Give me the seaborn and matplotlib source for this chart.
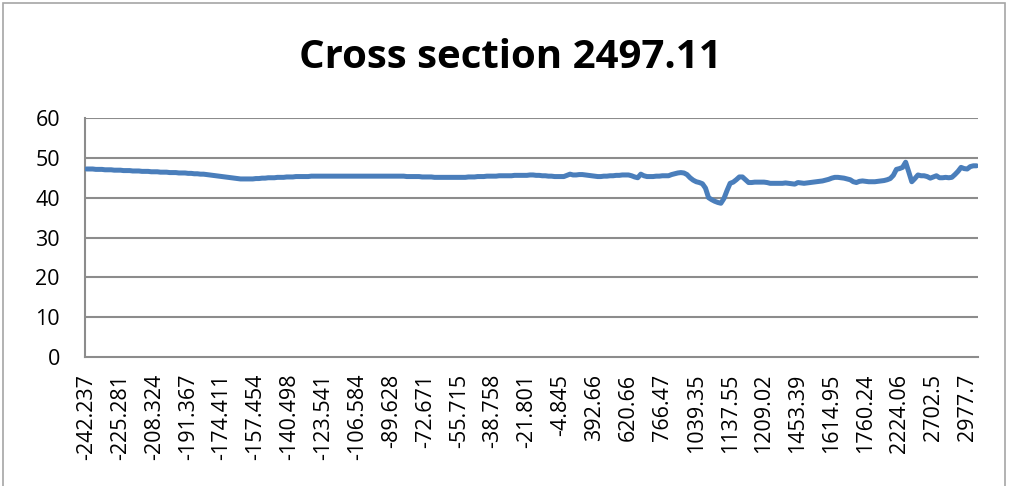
import matplotlib
matplotlib.use("Agg")
import matplotlib.pyplot as plt
from matplotlib.patches import Rectangle
import numpy as np
import pandas as pd
import seaborn as sns

title = "Cross section 2497.11"

tick_labels = ["-242.237", "-225.281", "-208.324", "-191.367", "-174.411", "-157.454",
               "-140.498", "-123.541", "-106.584", "-89.628", "-72.671", "-55.715",
               "-38.758", "-21.801", "-4.845", "392.66", "620.66", "766.47",
               "1039.35", "1137.55", "1209.02", "1453.39", "1614.95", "1760.24",
               "2224.06", "2702.5", "2977.7"]
label_step = 11

elevation = [
    47.2, 47.2, 47.2, 47.1, 47.1, 47.1, 47.0, 47.0, 47.0, 46.9,
    46.9, 46.9, 46.8, 46.8, 46.8, 46.7, 46.7, 46.7, 46.6, 46.6,
    46.6, 46.5, 46.5, 46.5, 46.4, 46.4, 46.4, 46.3, 46.3, 46.3,
    46.2, 46.2, 46.2, 46.1, 46.1, 46.0, 46.0, 45.9, 45.9, 45.8,
    45.7, 45.6, 45.5, 45.4, 45.3, 45.2, 45.1, 45.0, 44.9, 44.8,
    44.7, 44.7, 44.7, 44.7, 44.7, 44.8, 44.8, 44.9, 44.9, 45.0,
    45.0, 45.0, 45.1, 45.1, 45.1, 45.2, 45.2, 45.2, 45.3, 45.3,
    45.3, 45.3, 45.3, 45.4, 45.4, 45.4, 45.4, 45.4, 45.4, 45.4,
    45.4, 45.4, 45.4, 45.4, 45.4, 45.4, 45.4, 45.4, 45.4, 45.4,
    45.4, 45.4, 45.4, 45.4, 45.4, 45.4, 45.4, 45.4, 45.4, 45.4,
    45.4, 45.4, 45.4, 45.4, 45.3, 45.3, 45.3, 45.3, 45.3, 45.2,
    45.2, 45.2, 45.2, 45.1, 45.1, 45.1, 45.1, 45.1, 45.1, 45.1,
    45.1, 45.1, 45.1, 45.1, 45.2, 45.2, 45.2, 45.3, 45.3, 45.3,
    45.4, 45.4, 45.4, 45.4, 45.5, 45.5, 45.5, 45.5, 45.5, 45.6,
    45.6, 45.6, 45.6, 45.6, 45.7, 45.7, 45.6, 45.6, 45.5, 45.5,
    45.4, 45.4, 45.3, 45.3, 45.3, 45.3, 45.6, 45.9, 45.7, 45.7,
    45.8, 45.8, 45.7, 45.6, 45.5, 45.4, 45.3, 45.3, 45.4, 45.4,
    45.5, 45.5, 45.6, 45.6, 45.7, 45.7, 45.7, 45.5, 45.2, 45.0,
    45.9, 45.5, 45.3, 45.3, 45.3, 45.4, 45.4, 45.5, 45.5, 45.5,
    45.8, 46.0, 46.2, 46.3, 46.2, 45.8, 45.0, 44.4, 44.0, 43.8,
    43.5, 42.4, 40.0, 39.5, 39.1, 38.8, 38.6, 39.8, 41.8, 43.6,
    43.9, 44.5, 45.2, 45.2, 44.5, 43.8, 43.8, 43.9, 43.9, 43.9,
    43.9, 43.8, 43.6, 43.6, 43.6, 43.6, 43.6, 43.7, 43.6, 43.5,
    43.4, 43.8, 43.7, 43.6, 43.7, 43.8, 43.9, 44.0, 44.1, 44.2,
    44.4, 44.6, 44.9, 45.1, 45.1, 45.0, 44.9, 44.7, 44.5, 44.0,
    43.8, 44.1, 44.2, 44.1, 44.0, 44.0, 44.0, 44.1, 44.2, 44.3,
    44.5, 44.8, 45.6, 47.1, 47.3, 47.6, 48.9, 46.5, 44.0, 44.8,
    45.7, 45.5, 45.5, 45.3, 44.9, 45.2, 45.5, 45.0, 45.0, 45.1,
    45.0, 45.1, 45.8, 46.6, 47.6, 47.3, 47.2, 47.8, 48.0, 48.0,
]

y_ticks = [0, 10, 20, 30, 40, 50, 60]

sns.set_style("white")
plt.rcParams["font.family"] = ["Open Sans", "DejaVu Sans"]
plt.rcParams["text.color"] = "black"
plt.rcParams["xtick.color"] = "black"
plt.rcParams["ytick.color"] = "black"

n = len(elevation)
df = pd.DataFrame({"idx": np.arange(n), "elev": elevation})

fig = plt.figure(figsize=(10.12, 4.86), dpi=100)
ax = fig.add_axes([85 / 1012, 1 - 357 / 486, (978 - 85) / 1012, (357 - 118) / 486])

grid_c = "#8c8c8c"
for yv in y_ticks[1:]:
    ax.axhline(yv, color=grid_c, lw=1.5, zorder=0)

sns.lineplot(data=df, x="idx", y="elev", ax=ax, color="#4a7ebb", lw=3.6,
             solid_capstyle="round", solid_joinstyle="round", zorder=3)

ax.set_xlim(-0.5, n - 0.5)
ax.set_ylim(0, 60)
ax.set_yticks(y_ticks)
ax.set_yticklabels([str(v) for v in y_ticks], fontsize=15.5)
ax.set_xlabel("")
ax.set_ylabel("")

major_pos = [i * label_step for i in range(len(tick_labels))]
ax.set_xticks(major_pos)
ax.set_xticklabels(tick_labels, rotation=90, fontsize=15.5)
ax.set_xticks(np.arange(-0.5, n, 1.0), minor=True)
ax.tick_params(axis="x", which="major", length=0, pad=12)
ax.tick_params(axis="x", which="minor", length=5, width=1.0, color=grid_c, direction="out")
ax.tick_params(axis="y", length=6, width=1.3, color=grid_c, labelcolor="black",
               direction="out", pad=12)

for s in ["top", "right"]:
    ax.spines[s].set_visible(False)
for s in ["left", "bottom"]:
    ax.spines[s].set_color(grid_c)
    ax.spines[s].set_linewidth(1.5)

fig.text(510 / 1012, 1 - 57 / 486, title, ha="center", va="center",
         fontsize=29, fontweight="bold", color="black")

fig.patches.append(Rectangle((3 / 1012, -0.05), 1002 / 1012, 1.05 - 3 / 486,
                             transform=fig.transFigure, fill=False,
                             edgecolor="#a6a6a6", lw=1.2))

fig.savefig("out.png", dpi=100)
